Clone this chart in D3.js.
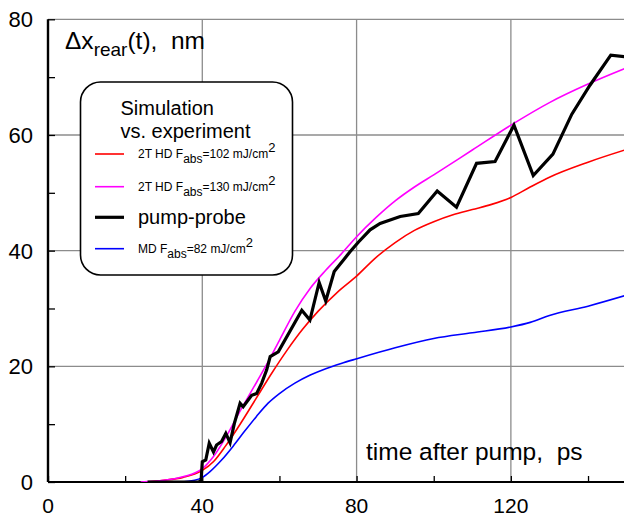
<!DOCTYPE html>
<html><head><meta charset="utf-8">
<script src="https://cdn.jsdelivr.net/npm/d3@7"></script>
<style>
html,body{margin:0;padding:0;background:#fff;}
svg{display:block;font-family:"Liberation Sans",Arial,sans-serif;}
text{white-space:pre;}
</style></head>
<body>
<svg id="chart" width="624" height="518"></svg>
<script>
// ---- data ----
const xTicksMajor = [0, 40, 80, 120];
const xTicksMinor = [20, 60, 100, 140];
const yTicksMajor = [0, 20, 40, 60, 80];
const yTicksMinor = [10, 30, 50, 70];

const hd102 = [[25,0],[30,0.3],[35,0.8],[40,2.0],[43,3.6],[46,6.2],[50,10.2],[54,14.5],[58,18.8],[62,22.8],[66,26.4],[70,29.5],[75,32.8],[80,35.6],[85,38.8],[90,41.4],[95,43.5],[100,45.0],[105,46.2],[110,47.1],[115,48.0],[120,49.2],[125,51.0],[130,52.7],[140,55.3],[150,57.5]];
const hd130 = [[24,0],[30,0.3],[35,0.9],[40,2.3],[43,4.5],[47,8.8],[50,12.5],[53,16.0],[56,19.5],[60,24.5],[64,29.5],[68,33.5],[72,36.6],[76,39.4],[80,42.4],[85,45.7],[90,48.6],[95,51.0],[100,53.1],[110,57.4],[120,61.7],[130,65.6],[140,68.8],[150,71.6]];
const pumpProbe = [[25.8,0],[39.1,0],[39.7,0.3],[40,3.5],[40.9,3.8],[41.8,6.7],[42.9,5.2],[43.7,6.4],[45.0,7.0],[46.1,8.4],[47.2,6.8],[48.3,10.1],[49.8,13.6],[50.6,13.0],[52.8,15.0],[54.1,15.3],[55.4,17.1],[56.7,19.4],[57.6,21.7],[59.7,22.5],[65.8,29.7],[67.9,28.0],[70.3,34.5],[72.0,31.3],[74.2,36.4],[76.6,38.4],[78.3,39.8],[80.5,41.5],[83.5,43.6],[86.1,44.7],[91.3,45.9],[96.0,46.4],[100.9,50.3],[105.9,47.5],[111.1,55.1],[115.9,55.4],[120.8,61.7],[125.8,53.0],[130.9,56.7],[135.8,63.6],[140.5,68.6],[145.9,73.8],[150,73.5]];
const md82 = [[34,0],[38,0.3],[40,0.8],[42,1.8],[45,3.8],[48,6.2],[51,8.8],[54,11.3],[57,13.6],[60,15.3],[64,17.1],[68,18.5],[72,19.6],[76,20.5],[80,21.3],[90,23.2],[100,24.8],[110,25.8],[120,26.8],[125,27.6],[130,28.8],[140,30.4],[150,32.3]];

const seriesNames = ["2T HD F|abs|=102 mJ/cm|2", "2T HD F|abs|=130 mJ/cm|2", "pump-probe", "MD F|abs|=82 mJ/cm|2"];
const seriesColors = ["#ff0000", "#ff00ff", "#000000", "#0000ff"];
const seriesData = [hd102, hd130, pumpProbe, md82];

// ---- layout ----
const svg = d3.select("#chart");
const x = d3.scaleLinear().domain([0,150]).range([48, 626.6]);
const y = d3.scaleLinear().domain([0,80]).range([482, 19.3]);

svg.append("clipPath").attr("id","clip").append("rect")
  .attr("x", x(0)).attr("y", y(80)).attr("width", x(150)-x(0)).attr("height", y(0)-y(80));

// grid
const grid = svg.append("g").attr("stroke","#8c8c8c").attr("stroke-width",1.3);
grid.selectAll("line.v").data(xTicksMajor.filter(d=>d>0)).join("line")
  .attr("x1",d=>x(d)).attr("x2",d=>x(d)).attr("y1",y(0)).attr("y2",y(80));
grid.selectAll("line.h").data(yTicksMajor.filter(d=>d>0)).join("line").attr("class","h")
  .attr("y1",d=>y(d)).attr("y2",d=>y(d)).attr("x1",x(0)).attr("x2",x(150));

// axes via d3
const xAxis = d3.axisBottom(x).tickValues(xTicksMajor.concat(xTicksMinor)).tickSize(-6).tickFormat("");
const gx = svg.append("g").attr("transform",`translate(0,${y(0)})`).call(xAxis);
gx.select(".domain").attr("stroke","#000").attr("stroke-width",2.2).attr("d",`M${x(0)},0H${x(150)}`);
gx.selectAll(".tick line").attr("stroke","#000").attr("stroke-width",1.3);

const yAxis = d3.axisLeft(y).tickValues(yTicksMajor.concat(yTicksMinor)).tickSize(-7).tickFormat("");
const gy = svg.append("g").attr("transform",`translate(${x(0)},0)`).call(yAxis);
gy.select(".domain").attr("stroke","#000").attr("stroke-width",2.4).attr("d",`M0,${y(0)}V${y(80)}`);
gy.selectAll(".tick line").attr("stroke","#000").attr("stroke-width",1.3);

// tick labels
svg.append("g").selectAll("text").data(xTicksMajor).join("text")
  .attr("x",d=>x(d)).attr("y",513).attr("text-anchor","middle").attr("font-size",21).text(d=>d);
svg.append("g").selectAll("text").data(yTicksMajor).join("text")
  .attr("x",33).attr("y",d=>y(d)+8).attr("text-anchor","end").attr("font-size",22).text(d=>d);

// lines
const line = d3.line().x(d=>x(d[0])).y(d=>y(d[1]));
const plot = svg.append("g").attr("clip-path","url(#clip)");
[3,0,1].forEach(i=>{
  plot.append("path").datum(seriesData[i]).attr("fill","none")
    .attr("stroke",seriesColors[i]).attr("stroke-width",1.6)
    .attr("d", line.curve(d3.curveMonotoneX)(seriesData[i]));
});
plot.append("path").datum(pumpProbe).attr("fill","none").attr("stroke","#000")
  .attr("stroke-width",3.2).attr("stroke-linejoin","miter")
  .attr("d", d3.line().x(d=>x(d[0])).y(d=>y(d[1]))(pumpProbe));

// title & x label
const t = svg.append("text").attr("x",65).attr("y",49).attr("font-size",24.5);
t.append("tspan").text("Δx");
t.append("tspan").attr("font-size",19).attr("dy",7).text("rear");
t.append("tspan").attr("dy",-7).text("(t),  nm");

svg.append("text").attr("x",366).attr("y",460).attr("font-size",24.5).text("time after pump,  ps");

// legend
const lg = svg.append("g");
lg.append("rect").attr("x",80.5).attr("y",82).attr("width",212).attr("height",193)
  .attr("rx",20).attr("ry",20).attr("fill","#fff").attr("stroke","#000").attr("stroke-width",1.6);
lg.append("text").attr("x",120.5).attr("y",115).attr("font-size",20).text("Simulation");
lg.append("text").attr("x",120.5).attr("y",138).attr("font-size",20).text("vs. experiment");
const rowY = [154, 186.7, 217.3, 248.7];
seriesNames.forEach((name,i)=>{
  lg.append("line").attr("x1",95).attr("x2",124).attr("y1",rowY[i]).attr("y2",rowY[i])
    .attr("stroke",seriesColors[i]).attr("stroke-width", i===2?3.2:1.6);
  const parts = name.split("|");
  if (parts.length===1) {
    lg.append("text").attr("x",138).attr("y",rowY[i]+7).attr("font-size",20).text(name);
  } else {
    const tx = lg.append("text").attr("x",138).attr("y",rowY[i]+4).attr("font-size",12);
    tx.append("tspan").text(parts[0]);
    tx.append("tspan").attr("dy",5).text(parts[1]);
    tx.append("tspan").attr("dy",-5).text(parts[2]);
    tx.append("tspan").attr("dy",-6).attr("font-size",13).text(parts[3]);
  }
});
</script>
</body></html>
